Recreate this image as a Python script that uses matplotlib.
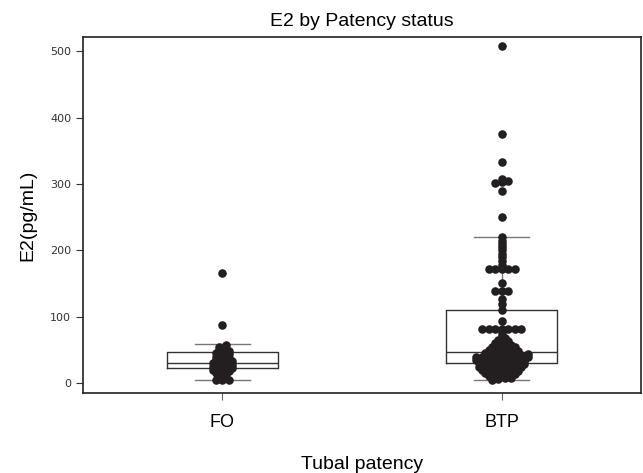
import numpy as np
import matplotlib
matplotlib.use("Agg")
import matplotlib.pyplot as plt

groups = ["FO", "BTP"]

fo = [4, 4, 4, 8, 12, 13, 16, 18, 19, 20, 21, 22, 23, 25, 26, 27, 28,
      30, 31, 33, 34, 35, 37, 38, 40, 42, 44, 45, 47, 49, 50, 52, 55, 58,
      88, 166]

btp = [5, 6, 7, 8, 10, 11, 12, 13, 14, 15, 16, 17, 18, 19, 19,
       20, 21, 22, 22, 23, 24, 24, 25, 25, 26, 26, 27, 28, 28, 29,
       30, 30, 31, 31, 32, 33, 33, 34, 35, 35, 36, 36, 37, 37, 38, 38, 39,
       40, 40, 41, 41, 42, 42, 43, 43, 44, 45, 46, 46, 47, 48, 49,
       50, 51, 52, 53, 54, 55, 56, 57, 58, 60, 62, 64, 65, 68, 72, 77,
       81, 81, 81, 81, 81, 81, 81, 93, 110, 120, 127, 139, 139, 139, 151,
       172, 172, 172, 172, 172, 178, 184, 190, 195, 200, 205, 210, 215, 221,
       251, 289, 302, 303, 304, 307, 333, 376, 509]

# box statistics: whislo, q1, med, q3, whishi
box_stats = {
    "FO": [4.5, 22.7, 30.7, 46.4, 58.4],
    "BTP": [4.5, 29.7, 47.3, 110.3, 221.0],
}


def dot_offsets(ax, values, center, binw, step):
    # points falling in the same bin are laid out in a centered row
    vals = np.asarray(values, dtype=float)
    bins = np.floor(vals / binw).astype(int)
    ppu = ax.transData.transform((1, 0))[0] - ax.transData.transform((0, 0))[0]
    x = np.full(len(vals), float(center))
    for b in np.unique(bins):
        idx = np.where(bins == b)[0]
        idx = idx[np.argsort(vals[idx], kind="stable")]
        n = len(idx)
        offs = (np.arange(n) - (n - 1) / 2) * step
        x[idx] = center + offs / ppu
    return x


fig = plt.figure(figsize=(6.43, 4.73), dpi=100)
ax = fig.add_axes([0.129, 0.169, 0.868, 0.753])
ax.set_xlim(0.5, 2.5)
ax.set_ylim(-15, 522)

stats = []
for g in groups:
    lo, q1, med, q3, hi = box_stats[g]
    stats.append(dict(whislo=lo, q1=q1, med=med, q3=q3, whishi=hi, fliers=[], label=g))
ax.bxp(stats, positions=[1, 2], widths=0.4, showfliers=False,
       boxprops=dict(color="#333333", linewidth=1.0),
       medianprops=dict(color="#333333", linewidth=1.0),
       whiskerprops=dict(color="#777777", linewidth=1.0),
       capprops=dict(color="#777777", linewidth=1.0),
       capwidths=0.2, zorder=1)

for pos, vals in zip([1, 2], [fo, btp]):
    x = dot_offsets(ax, vals, pos, 5.0, 6.5)
    ax.scatter(x, vals, s=38, color="#231f20", linewidths=0, zorder=3)

ax.set_xticks([1, 2])
ax.set_xticklabels(groups, fontsize=13, family="Liberation Sans")
ax.set_yticks([0, 100, 200, 300, 400, 500])
ax.tick_params(axis="y", labelsize=8, colors="#333333", length=5, width=0.8)
ax.tick_params(axis="x", length=5, width=0.8, colors="#666666", labelcolor="black", pad=10)
for s in ax.spines.values():
    s.set_color("#222222")
    s.set_linewidth(1.2)

ax.set_title("E2 by Patency status", fontsize=14, family="Liberation Sans", pad=8)
ax.set_ylabel("E2(pg/mL)", fontsize=14, family="Liberation Sans", labelpad=10)
ax.set_xlabel("Tubal patency", fontsize=14, family="Liberation Sans", labelpad=18)

fig.savefig("out.png", dpi=100)
